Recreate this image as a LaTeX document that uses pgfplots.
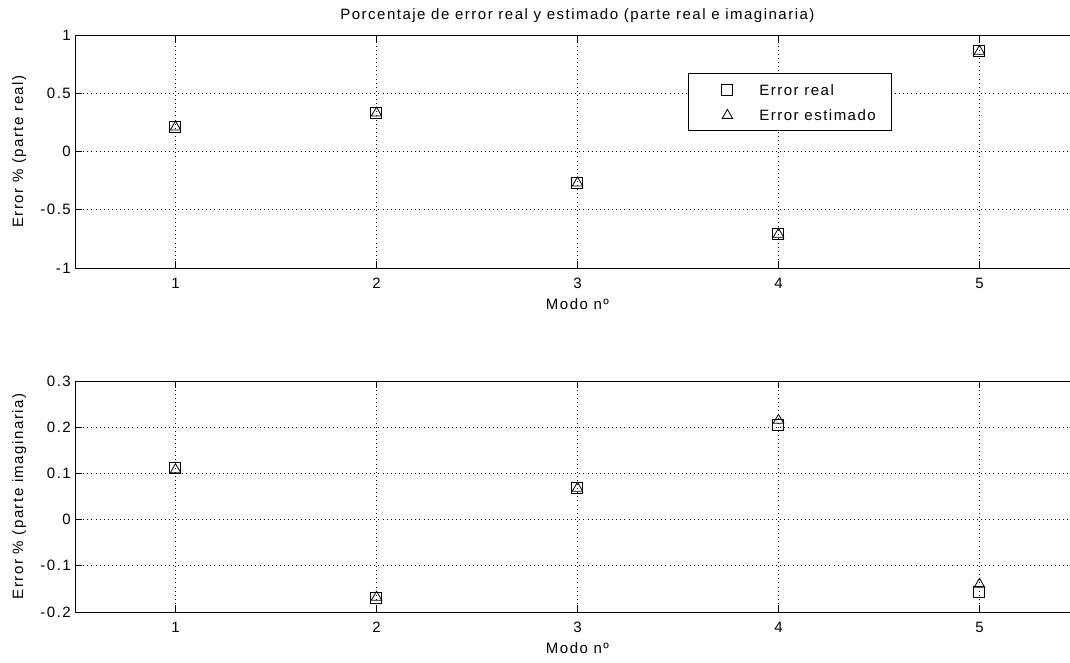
\documentclass[border=0pt]{standalone}
\usepackage{pgfplots}
\pgfplotsset{compat=1.18}
\usepackage{fontspec}
\setmainfont{Liberation Sans}[LetterSpace=10]
\begin{document}
\fontsize{15}{17}\selectfont
\begin{tikzpicture}
\useasboundingbox (0pt,0pt) rectangle (1070pt,-662pt);
\fill[white] (0pt,0pt) rectangle (1070pt,-662pt);
\pgfplotsset{
  mstyle/.style={
    scale only axis, width=1005pt,
    xmin=0.5, xmax=5.5, xtick={1,2,3,4,5},
    grid=major,
    major grid style={black, line width=0.8pt, dash pattern=on 0.9pt off 3.2pt},
    tick align=inside, major tick length=7pt,
    axis line style={black, line width=0.8pt},
    tick style={black, line width=0.8pt},
    ticklabel style={font=\fontsize{15}{17}\selectfont},
    label style={font=\fontsize{15}{17}\selectfont},
    /pgf/number format/assume math mode=true,
    /pgf/number format/fixed,
    xlabel={Modo nº},
    xlabel style={yshift=0pt},
    ylabel style={yshift=4pt},
    xticklabel style={yshift=-5pt},
    yticklabel style={xshift=1pt},
  },
  sqr/.style={only marks, mark=square, mark size=5.5pt, black, line width=1pt},
  tri/.style={only marks, mark=triangle, mark size=6pt, black, line width=0.8pt},
}
\begin{axis}[mstyle, at={(75pt,-268pt)}, anchor=south west, height=233pt,
  ymin=-1, ymax=1, ytick={-1,-0.5,0,0.5,1},
  ylabel={Error \% (parte real)},
  title={Porcentaje de error real y estimado (parte real e imaginaria)},
  title style={font=\fontsize{15}{17}\selectfont, yshift=1pt},
  legend style={at={(axis description cs:0.61,0.837)}, anchor=north west,
    draw=black, line width=0.8pt, fill=white, font=\fontsize{15}{17}\selectfont,
    inner xsep=0pt, inner ysep=6.5pt, row sep=6pt,
    nodes={inner sep=2pt, text height=14pt, text depth=1pt}},
  legend image code/.code={\path[draw=none] (0pt,-1pt) -- (69pt,-1pt); \draw[#1] plot[only marks] coordinates {(39pt,-1pt)};},
  legend cell align=left]
\addplot[sqr] coordinates {(1,0.21) (2,0.33) (3,-0.27) (4,-0.71) (5,0.86)};
\addlegendentry{Error real}
\addplot[tri] coordinates {(1,0.21) (2,0.33) (3,-0.27) (4,-0.71) (5,0.86)};
\addlegendentry{Error estimado\rule{14pt}{0pt}}
\end{axis}
\begin{axis}[mstyle, at={(75pt,-612pt)}, anchor=south west, height=231pt,
  ymin=-0.2, ymax=0.3, ytick={-0.2,-0.1,0,0.1,0.2,0.3},
  yticklabels={-0.2,-0.1,0,0.1,0.2,0.3},
  ylabel={Error \% (parte imaginaria)}]
\addplot[sqr] coordinates {(1,0.112) (2,-0.17) (3,0.068) (4,0.205) (5,-0.157)};
\addplot[tri] coordinates {(1,0.108) (2,-0.168) (3,0.068) (4,0.215) (5,-0.14)};
\end{axis}
\end{tikzpicture}
\end{document}
